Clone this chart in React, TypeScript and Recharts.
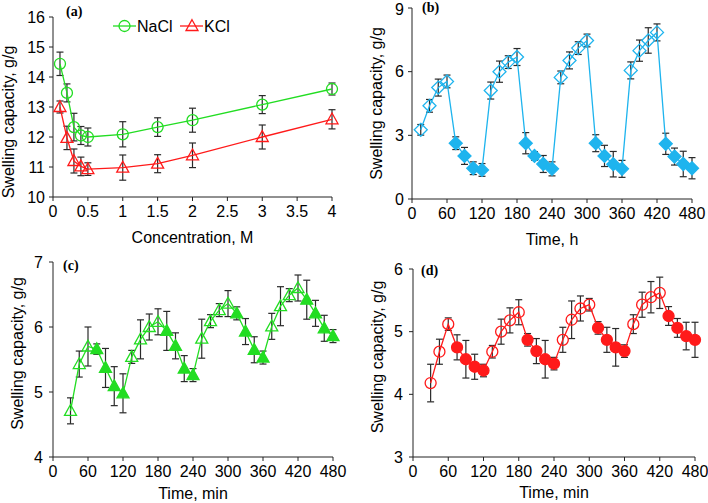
import React from "react"
import { LineChart, Line, XAxis, YAxis, ErrorBar, Legend } from "recharts"

const FONT = '"Liberation Sans", Arial, Helvetica, sans-serif'
const FS = 16
const GREEN = "#22dd22"
const RED = "#ff1a1a"
const BLUE = "#1eb4ee"
const BAR = "#2a2a2a"

// (a) swelling vs salt concentration
const concentration = [0.1, 0.2, 0.3, 0.4, 0.5, 1, 1.5, 2, 3, 4]
const naclSwelling = [14.44, 13.47, 12.33, 12.05, 12.0, 12.09, 12.33, 12.56, 13.08, 13.6]
const naclError = [0.39, 0.3, 0.46, 0.3, 0.3, 0.42, 0.31, 0.4, 0.3, 0.2]
const kclSwelling = [13.0, 11.97, 11.2, 11.02, 10.93, 10.98, 11.11, 11.39, 12.0, 12.59]
const kclError = [0.2, 0.39, 0.4, 0.31, 0.21, 0.42, 0.3, 0.41, 0.4, 0.32]

// (b) on/off cycles, hours
const hours = [15, 30, 45, 60, 75, 90, 105, 120, 135, 150, 165, 180, 195, 210, 225, 240, 255, 270, 285, 300, 315, 330, 345, 360, 375, 390, 405, 420, 435, 450, 465, 480]
const cycleSwelling = [3.26, 4.39, 5.25, 5.54, 2.63, 2.03, 1.45, 1.37, 5.11, 6.0, 6.45, 6.69, 2.63, 2.03, 1.65, 1.42, 5.73, 6.53, 7.11, 7.47, 2.63, 2.03, 1.64, 1.42, 6.06, 6.99, 7.47, 7.85, 2.6, 2.0, 1.65, 1.45]
const cycleError = [0.25, 0.3, 0.4, 0.3, 0.3, 0.4, 0.3, 0.3, 0.4, 0.5, 0.3, 0.4, 0.5, 0.2, 0.4, 0.33, 0.3, 0.4, 0.3, 0.3, 0.4, 0.5, 0.6, 0.4, 0.4, 0.5, 0.6, 0.4, 0.5, 0.4, 0.6, 0.5]
const cyclePhase = ["S", "S", "S", "S", "D", "D", "D", "D", "S", "S", "S", "S", "D", "D", "D", "D", "S", "S", "S", "S", "D", "D", "D", "D", "S", "S", "S", "S", "D", "D", "D", "D"]

// (c), (d) on/off cycles, minutes
const minutes = [30, 45, 60, 75, 90, 105, 120, 135, 150, 165, 180, 195, 210, 225, 240, 255, 270, 285, 300, 315, 330, 345, 360, 375, 390, 405, 420, 435, 450, 465, 480]
const minutePhase = ["S", "S", "S", "D", "D", "D", "D", "S", "S", "S", "S", "D", "D", "D", "D", "S", "S", "S", "S", "D", "D", "D", "D", "S", "S", "S", "S", "D", "D", "D", "D"]
const greenSwelling = [4.71, 5.43, 5.7, 5.66, 5.37, 5.09, 4.98, 5.54, 5.81, 6.0, 6.08, 5.94, 5.71, 5.36, 5.26, 5.82, 6.09, 6.26, 6.36, 6.21, 5.93, 5.65, 5.53, 6.01, 6.32, 6.49, 6.6, 6.42, 6.21, 5.98, 5.86]
const greenError = [0.2, 0.2, 0.3, 0.08, 0.3, 0.3, 0.3, 0.1, 0.3, 0.2, 0.2, 0.3, 0.2, 0.2, 0.1, 0.3, 0.1, 0.1, 0.2, 0.1, 0.2, 0.2, 0.1, 0.2, 0.3, 0.1, 0.2, 0.3, 0.2, 0.2, 0.1]
const redSwelling = [4.18, 4.68, 5.12, 4.75, 4.56, 4.44, 4.38, 4.68, 5.0, 5.18, 5.31, 4.87, 4.69, 4.56, 4.49, 4.87, 5.19, 5.37, 5.43, 5.06, 4.87, 4.75, 4.69, 5.12, 5.43, 5.55, 5.62, 5.25, 5.06, 4.93, 4.87]
const redError = [0.3, 0.2, 0.1, 0.2, 0.3, 0.2, 0.1, 0.1, 0.2, 0.2, 0.2, 0.1, 0.2, 0.3, 0.1, 0.2, 0.3, 0.2, 0.1, 0.1, 0.2, 0.3, 0.1, 0.15, 0.2, 0.25, 0.25, 0.15, 0.15, 0.22, 0.28]

const concData = concentration.map((x, i) => ({
  x,
  nacl: naclSwelling[i],
  naclErr: naclError[i],
  kcl: kclSwelling[i],
  kclErr: kclError[i],
  phase: "S",
}))
const hourData = hours.map((x, i) => ({ x, y: cycleSwelling[i], err: cycleError[i], phase: cyclePhase[i] }))
const greenData = minutes.map((x, i) => ({ x, y: greenSwelling[i], err: greenError[i], phase: minutePhase[i] }))
const redData = minutes.map((x, i) => ({ x, y: redSwelling[i], err: redError[i], phase: minutePhase[i] }))

type Shape = "circle" | "triangle" | "diamond"

const markerPath = (shape: Shape, cx: number, cy: number, r: number) => {
  if (shape === "triangle") return `M${cx},${cy - r * 1.05} L${cx + r},${cy + r * 0.75} L${cx - r},${cy + r * 0.75} Z`
  return `M${cx},${cy - r} L${cx + r},${cy} L${cx},${cy + r} L${cx - r},${cy} Z`
}

const marker = (shape: Shape, color: string, r: number) => (props: any) => {
  const { cx, cy, payload, index } = props
  const key = `m-${index}`
  if (cx == null || cy == null) return <g key={key} />
  const fill = payload.phase === "D" ? color : "none"
  if (shape === "circle")
    return <circle key={key} cx={cx} cy={cy} r={r} fill={fill} stroke={color} strokeWidth={1.3} />
  return <path key={key} d={markerPath(shape, cx, cy, r)} fill={fill} stroke={color} strokeWidth={1.3} />
}

const XTitle = ({ viewBox, value, base }: any) => {
  const { x, y, width } = viewBox
  return (
    <text x={x + width / 2} y={y + base} textAnchor="middle" fontSize={FS} fontFamily={FONT} fill="#000">
      {value}
    </text>
  )
}

const YTitle = ({ viewBox, value, at, shift }: any) => {
  const { x, y, height } = viewBox
  const px = x + at
  const py = y + height / 2 + shift
  return (
    <text
      x={px}
      y={py}
      transform={`rotate(-90, ${px}, ${py})`}
      textAnchor="middle"
      dominantBaseline="central"
      fontSize={FS}
      fontFamily={FONT}
      fill="#000"
    >
      {value}
    </text>
  )
}

const tickStyle = { fill: "#000", fontSize: FS, fontFamily: FONT }

const LegendA = () => (
  <svg width={130} height={18} style={{ display: "block" }}>
    <line x1={0} y1={9} x2={23} y2={9} stroke={GREEN} strokeWidth={1.3} />
    <circle cx={11.5} cy={9} r={5.5} fill="none" stroke={GREEN} strokeWidth={1.3} />
    <text x={24} y={15} fontSize={FS} fontFamily={FONT} fill="#000">NaCl</text>
    <line x1={67} y1={9} x2={90} y2={9} stroke={RED} strokeWidth={1.3} />
    <path d={markerPath("triangle", 79, 9, 6)} fill="none" stroke={RED} strokeWidth={1.3} />
    <text x={91} y={15} fontSize={FS} fontFamily={FONT} fill="#000">KCl</text>
  </svg>
)

const PanelTag = ({ left, top, text }: { left: number; top: number; text: string }) => (
  <div
    style={{
      position: "absolute",
      left,
      top,
      fontFamily: '"Liberation Serif", "Times New Roman", serif',
      fontWeight: "bold",
      fontSize: 14,
      lineHeight: "14px",
    }}
  >
    {text}
  </div>
)

export default function App() {
  return (
    <div style={{ position: "absolute", left: 0, top: 0, width: 708, height: 503, background: "#fff", overflow: "hidden" }}>
      {/* (a) */}
      <div style={{ position: "absolute", left: 0, top: 0 }}>
        <LineChart width={354} height={250} data={concData} margin={{ top: 17, right: 22, left: 0, bottom: 3 }}>
          <XAxis
            type="number"
            dataKey="x"
            domain={[0, 4]}
            ticks={[0, 0.5, 1, 1.5, 2, 2.5, 3, 3.5, 4]}
            height={50}
            tickSize={4}
            tickMargin={5}
            stroke="#222"
            tick={tickStyle}
            label={<XTitle value="Concentration, M" base={46} />}
          />
          <YAxis
            type="number"
            domain={[10, 16]}
            ticks={[10, 11, 12, 13, 14, 15, 16]}
            width={53}
            tickSize={4}
            tickMargin={4}
            stroke="#222"
            tick={tickStyle}
            label={<YTitle value="Swelling capacity, g/g" at={8} shift={15} />}
          />
          <Legend layout="vertical" verticalAlign="middle" align="center" wrapperStyle={{ left: 113, top: 17, width: 130 }} content={<LegendA />} />
          <Line dataKey="nacl" type="linear" stroke={GREEN} strokeWidth={1.3} dot={marker("circle", GREEN, 5.5)} isAnimationActive={false}>
            <ErrorBar dataKey="naclErr" width={3.5} stroke={BAR} strokeWidth={1.2} direction="y" />
          </Line>
          <Line dataKey="kcl" type="linear" stroke={RED} strokeWidth={1.3} dot={marker("triangle", RED, 6)} isAnimationActive={false}>
            <ErrorBar dataKey="kclErr" width={3.5} stroke={BAR} strokeWidth={1.2} direction="y" />
          </Line>
        </LineChart>
      </div>

      {/* (b) */}
      <div style={{ position: "absolute", left: 354, top: 0 }}>
        <LineChart width={354} height={250} data={hourData} margin={{ top: 8, right: 16, left: 0, bottom: 3 }}>
          <XAxis
            type="number"
            dataKey="x"
            domain={[0, 480]}
            ticks={[0, 60, 120, 180, 240, 300, 360, 420, 480]}
            height={48}
            tickSize={4}
            tickMargin={5}
            stroke="#222"
            tick={tickStyle}
            label={<XTitle value="Time, h" base={46} />}
          />
          <YAxis
            type="number"
            domain={[0, 9]}
            ticks={[0, 3, 6, 9]}
            width={58}
            tickSize={4}
            tickMargin={4}
            stroke="#222"
            tick={tickStyle}
            label={<YTitle value="Swelling capacity, g/g" at={22} shift={0} />}
          />
          <Line dataKey="y" type="linear" stroke={BLUE} strokeWidth={1.3} dot={marker("diamond", BLUE, 6.5)} isAnimationActive={false}>
            <ErrorBar dataKey="err" width={3.5} stroke={BAR} strokeWidth={1.2} direction="y" />
          </Line>
        </LineChart>
      </div>

      {/* (c) */}
      <div style={{ position: "absolute", left: 0, top: 250 }}>
        <LineChart width={354} height={253} data={greenData} margin={{ top: 12, right: 21, left: 0, bottom: 2 }}>
          <XAxis
            type="number"
            dataKey="x"
            domain={[0, 480]}
            ticks={[0, 60, 120, 180, 240, 300, 360, 420, 480]}
            height={44}
            tickSize={4}
            tickMargin={5}
            stroke="#222"
            tick={tickStyle}
            label={<XTitle value="Time, min" base={42} />}
          />
          <YAxis
            type="number"
            domain={[4, 7]}
            ticks={[4, 5, 6, 7]}
            width={53}
            tickSize={4}
            tickMargin={6}
            stroke="#222"
            tick={tickStyle}
            label={<YTitle value="Swelling capacity, g/g" at={17} shift={-6} />}
          />
          <Line dataKey="y" type="linear" stroke={GREEN} strokeWidth={1.3} dot={marker("triangle", GREEN, 6)} isAnimationActive={false}>
            <ErrorBar dataKey="err" width={3.5} stroke={BAR} strokeWidth={1.2} direction="y" />
          </Line>
        </LineChart>
      </div>

      {/* (d) */}
      <div style={{ position: "absolute", left: 354, top: 250 }}>
        <LineChart width={354} height={253} data={redData} margin={{ top: 19, right: 13, left: 0, bottom: 2 }}>
          <XAxis
            type="number"
            dataKey="x"
            domain={[0, 480]}
            ticks={[0, 60, 120, 180, 240, 300, 360, 420, 480]}
            height={44}
            tickSize={4}
            tickMargin={5}
            stroke="#222"
            tick={tickStyle}
            label={<XTitle value="Time, min" base={41} />}
          />
          <YAxis
            type="number"
            domain={[3, 6]}
            ticks={[3, 4, 5, 6]}
            width={59}
            tickSize={4}
            tickMargin={6}
            stroke="#222"
            tick={tickStyle}
            label={<YTitle value="Swelling capacity, g/g" at={23} shift={-6} />}
          />
          <Line dataKey="y" type="linear" stroke={RED} strokeWidth={1.3} dot={marker("circle", RED, 5.5)} isAnimationActive={false}>
            <ErrorBar dataKey="err" width={3.5} stroke={BAR} strokeWidth={1.2} direction="y" />
          </Line>
        </LineChart>
      </div>

      <PanelTag left={66} top={5} text="(a)" />
      <PanelTag left={422} top={1} text="(b)" />
      <PanelTag left={63} top={259} text="(c)" />
      <PanelTag left={421} top={264} text="(d)" />
    </div>
  )
}
